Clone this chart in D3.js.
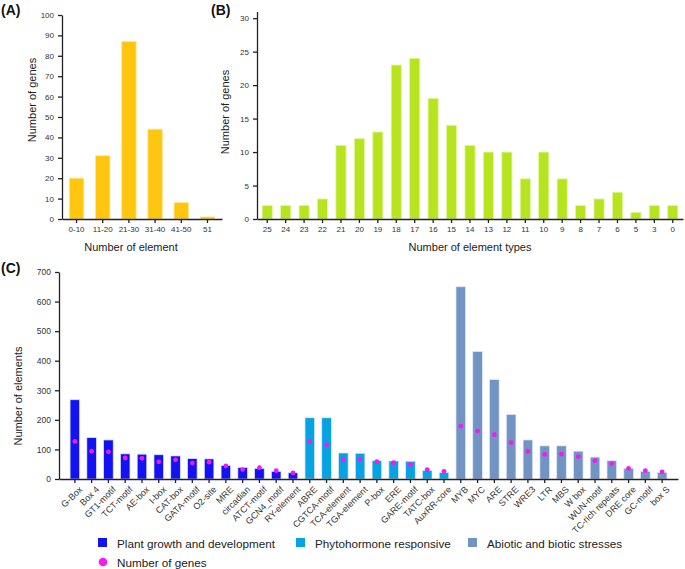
<!DOCTYPE html>
<html>
<head>
<meta charset="utf-8">
<script src="https://cdn.jsdelivr.net/npm/d3@7"></script>
<style>
  body { margin: 0; background: #fff; }
  svg { font-family: "Liberation Sans", Arial, sans-serif; }
  .axis path, .axis line { stroke: #222; stroke-width: 1.3; }
  .axis text { fill: #333; }
</style>
</head>
<body>
<div id="chart"></div>
<script>
// Panel A: number of elements per gene
var elemBins = ["0-10", "11-20", "21-30", "31-40", "41-50", "51"];
var elemGenes = [20, 31, 87, 44, 8, 1];

// Panel B: number of element types per gene
var typeBins = ["25", "24", "23", "22", "21", "20", "19", "18", "17", "16", "15", "14",
    "13", "12", "11", "10", "9", "8", "7", "6", "5", "3", "0"];
var typeGenes = [2, 2, 2, 3, 11, 12, 13, 23, 24, 18, 14, 11, 10, 10, 6, 10, 6, 2, 3, 4, 1, 2, 2];

// Panel C: cis-elements
var growthNames = ["G-Box", "Box 4", "GT1-motif", "TCT-motif", "AE-box", "I-box", "CAT-box",
    "GATA-motif", "O2-site", "MRE", "circadian", "ATCT-motif", "GCN4_motif", "RY-element"];
var growthCounts = [268, 140, 132, 85, 84, 82, 78, 69, 68, 46, 39, 36, 26, 21];
var growthGenes = [127, 94, 92, 71, 70, 58, 65, 54, 57, 44, 32, 38, 28, 21];

var hormoneNames = ["ABRE", "CGTCA-motif", "TCA-element", "TGA-element", "P-box", "ERE",
    "GARE-motif", "TATC-box", "AuxRR-core"];
var hormoneCounts = [207, 207, 88, 87, 62, 61, 60, 29, 22];
var hormoneGenes = [126, 115, 66, 67, 59, 55, 49, 32, 26];

var stressNames = ["MYB", "MYC", "ARE", "STRE", "WRE3", "LTR", "MBS", "W box", "WUN-motif",
    "TC-rich repeats", "DRE core", "GC-motif", "box S"];
var stressCounts = [650, 431, 336, 218, 132, 112, 112, 94, 74, 62, 36, 26, 22];
var stressGenes = [179, 162, 150, 123, 93, 83, 84, 76, 62, 52, 36, 28, 24];

var groupNames = ["Plant growth and development", "Phytohormone responsive", "Abiotic and biotic stresses"];
var groupColors = ["#1212f2", "#06a3e4", "#7194c3"];

var w = 685;
var h = 569;

var svg = d3.select("#chart")
    .append("svg")
    .attr("width", w)
    .attr("height", h);

function panelTitle(label, x, y) {
    svg.append("text")
        .attr("x", x)
        .attr("y", y)
        .attr("font-size", "14px")
        .attr("font-weight", "bold")
        .attr("fill", "#111")
        .text(label);
}

function axisLabel(label, x, y, rotate) {
    svg.append("text")
        .attr("transform", "translate(" + x + "," + y + ")" + (rotate ? " rotate(-90)" : ""))
        .attr("text-anchor", "middle")
        .attr("dominant-baseline", "central")
        .attr("font-size", "11px")
        .attr("fill", "#222")
        .text(label);
}

function histogram(cats, vals, xr, yr, ymax, ticks, color, stroke, fontSize) {
    var x = d3.scaleBand().domain(cats).range(xr).paddingInner(0.45).paddingOuter(0.28);
    var y = d3.scaleLinear().domain([0, ymax]).range(yr);

    svg.append("g")
        .selectAll("rect")
        .data(vals)
        .enter()
        .append("rect")
        .attr("x", function(d, i) { return x(cats[i]); })
        .attr("y", function(d) { return y(d); })
        .attr("width", x.bandwidth())
        .attr("height", function(d) { return y(0) - y(d); })
        .attr("fill", color)
        .attr("stroke", stroke)
        .attr("stroke-width", 0.8);

    svg.append("g")
        .attr("class", "axis")
        .attr("transform", "translate(0," + yr[0] + ")")
        .call(d3.axisBottom(x).tickSize(4).tickPadding(3).tickSizeOuter(0))
        .selectAll("text").attr("font-size", fontSize);

    svg.append("g")
        .attr("class", "axis")
        .attr("transform", "translate(" + xr[0] + ",0)")
        .call(d3.axisLeft(y).tickValues(ticks).tickSize(4).tickPadding(4).tickSizeOuter(0))
        .selectAll("text").attr("font-size", fontSize);
}

// (A)
panelTitle("(A)", 1, 15);
histogram(elemBins, elemGenes, [62, 222], [219, 15], 100, d3.range(0, 101, 10),
    "#fec60e", "#ffe68a", "8px");
axisLabel("Number of genes", 32, 100, true);
axisLabel("Number of element", 131, 247, false);

// (B)
panelTitle("(B)", 211, 15);
histogram(typeBins, typeGenes, [257, 683], [219, 11.5], 31, d3.range(0, 31, 5),
    "#b6e51f", "#e2f7a0", "8px");
axisLabel("Number of genes", 225, 112, true);
axisLabel("Number of element types", 470, 247, false);

// (C)
panelTitle("(C)", 1, 273);

var allNames = growthNames.concat(hormoneNames, stressNames);
var allCounts = growthCounts.concat(hormoneCounts, stressCounts);
var allGenes = growthGenes.concat(hormoneGenes, stressGenes);
var allGroups = growthNames.map(function() { return 0; })
    .concat(hormoneNames.map(function() { return 1; }), stressNames.map(function() { return 2; }));

var xC = d3.scaleBand().domain(allNames).range([59, 678]).paddingInner(0.43).paddingOuter(0.66);
var yC = d3.scaleLinear().domain([0, 700]).range([479, 272]);

svg.append("g")
    .selectAll("rect")
    .data(allCounts)
    .enter()
    .append("rect")
    .attr("x", function(d, i) { return xC(allNames[i]); })
    .attr("y", function(d) { return yC(d); })
    .attr("width", xC.bandwidth())
    .attr("height", function(d) { return yC(0) - yC(d); })
    .attr("fill", function(d, i) { return groupColors[allGroups[i]]; })
    .attr("stroke", "#dfe6f5")
    .attr("stroke-width", 0.7);

svg.append("g")
    .selectAll("circle")
    .data(allGenes)
    .enter()
    .append("circle")
    .attr("cx", function(d, i) { return xC(allNames[i]) + xC.bandwidth() / 2; })
    .attr("cy", function(d) { return yC(d); })
    .attr("r", 2.4)
    .attr("fill", "#f01cf0");

var xAxisC = svg.append("g")
    .attr("class", "axis")
    .attr("transform", "translate(0,479)")
    .call(d3.axisBottom(xC).tickSize(4).tickSizeOuter(0));
xAxisC.selectAll("text")
    .attr("font-size", "9px")
    .attr("text-anchor", "end")
    .attr("dy", "0.35em")
    .attr("transform", "translate(3,6) rotate(-45)")
    .attr("x", 0)
    .attr("y", 4);

svg.append("g")
    .attr("class", "axis")
    .attr("transform", "translate(59,0)")
    .call(d3.axisLeft(yC).tickValues(d3.range(0, 701, 100)).tickSize(4).tickPadding(4).tickSizeOuter(0))
    .selectAll("text").attr("font-size", "8.5px");

axisLabel("Number of elements", 18, 396, true);

// legend
var legendX = [98, 296, 468];
var legend = svg.append("g");
legend.selectAll("rect")
    .data(groupNames)
    .enter()
    .append("rect")
    .attr("x", function(d, i) { return legendX[i]; })
    .attr("y", 538)
    .attr("width", 9)
    .attr("height", 9)
    .attr("fill", function(d, i) { return groupColors[i]; });
legend.selectAll("text")
    .data(groupNames)
    .enter()
    .append("text")
    .attr("x", function(d, i) { return legendX[i] + 19; })
    .attr("y", 543)
    .attr("dominant-baseline", "central")
    .attr("font-size", "11.7px")
    .attr("fill", "#222")
    .text(function(d) { return d; });

legend.append("circle")
    .attr("cx", 103)
    .attr("cy", 562)
    .attr("r", 4.3)
    .attr("fill", "#f01cf0");
legend.append("text")
    .attr("x", 117)
    .attr("y", 562)
    .attr("dominant-baseline", "central")
    .attr("font-size", "11.7px")
    .attr("fill", "#222")
    .text("Number of genes");
</script>
</body>
</html>
